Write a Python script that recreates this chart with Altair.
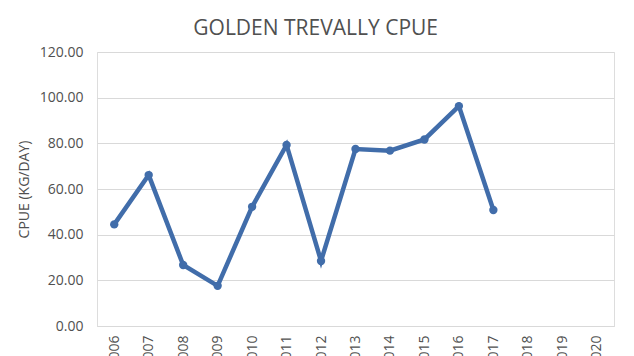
import altair as alt
import pandas as pd

years = [str(y) for y in range(2006, 2021)]
data_years = [str(y) for y in range(2006, 2018)]
cpue = [44.5, 66.1, 26.7, 17.6, 52.2, 79.3, 28.5, 77.5, 76.8, 81.7, 96.3, 50.8]

df = pd.DataFrame({"year": data_years, "cpue": cpue})

FONT = "Open Sans"
GREY = "#505050"
BLUE = "#416DAA"

x = alt.X("year:O", scale=alt.Scale(domain=years, padding=0.5),
          axis=alt.Axis(title=None, labelAngle=-90, labelFontSize=14, labelColor=GREY,
                        labelFont=FONT, ticks=False, domain=True, domainColor="#D9D9D9",
                        labelPadding=9, grid=False))
y = alt.Y("cpue:Q", scale=alt.Scale(domain=[0, 120], nice=False),
          axis=alt.Axis(title="CPUE (KG/DAY)", format=".2f", values=[0, 20, 40, 60, 80, 100, 120],
                        labelFontSize=14, labelColor=GREY, labelFont=FONT, labelPadding=14,
                        titleFontSize=14, titleColor=GREY, titleFont=FONT, titleFontWeight="normal",
                        titlePadding=8, ticks=False, domain=False, gridColor="#D9D9D9"))

base = alt.Chart(df)
line = base.mark_line(color=BLUE, strokeWidth=4.5).encode(x=x, y=y)
pts = base.mark_circle(color=BLUE, size=70, opacity=1).encode(x=x, y=y)

chart = (line + pts).properties(
    width=517, height=274,
    title=alt.TitleParams("GOLDEN TREVALLY CPUE", fontSize=21, color=GREY, font=FONT,
                          fontWeight="normal", offset=6, frame="bounds", anchor="middle"),
    autosize=alt.AutoSizeParams(type="none"),
    padding={"left": 97, "top": 52, "right": 20, "bottom": 30},
).configure_view(stroke=None).configure(background="white")

chart.save("out.html", embed_options={"renderer": "svg", "actions": False})
